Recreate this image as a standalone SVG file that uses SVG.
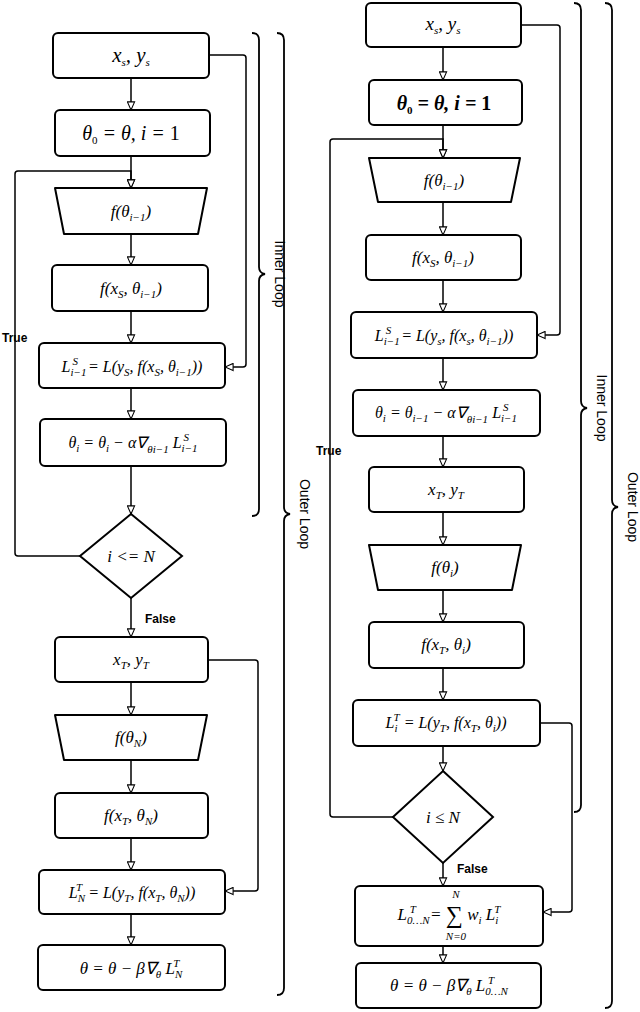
<svg xmlns="http://www.w3.org/2000/svg" width="640" height="1012" viewBox="0 0 640 1012">
<defs>
<marker id="a" viewBox="0 0 10 10" refX="10" refY="5" markerWidth="9" markerHeight="9" markerUnits="userSpaceOnUse" orient="auto"><path d="M1,1 L10,5 L1,9 Z" fill="#fff" stroke="#000" stroke-width="1.2"/></marker>
</defs>
<style>
.b{fill:#fff;stroke:#000;stroke-width:2}
.c{fill:none;stroke:#000;stroke-width:1.5;marker-end:url(#a)}
.l{fill:none;stroke:#000;stroke-width:1.5}
.br{fill:none;stroke:#000;stroke-width:1.8}
.m{font-family:"Liberation Serif",serif;font-style:italic;font-size:17px;text-anchor:middle}
.s{font-size:11px}
.lab{font-family:"Liberation Sans",Arial,sans-serif;font-size:12px;font-weight:bold}
.rot{font-family:"Liberation Sans",Arial,sans-serif;font-size:14px;text-anchor:middle}
</style>
<rect width="640" height="1012" fill="#fff"/>
<g id="connectors">
<path class="c" d="M131,78 V110"/>
<path class="c" d="M131,156 V188"/>
<path class="c" d="M131,234 V265"/>
<path class="c" d="M131,311 V343"/>
<path class="c" d="M131,388 V419"/>
<path class="c" d="M131,466 V514"/>
<path class="c" d="M80,556 H18 Q15,556 15,553 V174 Q15,171 18,171 H131 V188"/>
<path class="c" d="M131,598 V637"/>
<path class="c" d="M131,682 V715"/>
<path class="c" d="M131,760 V793"/>
<path class="c" d="M131,838 V870"/>
<path class="c" d="M131,914 V945"/>
<path class="c" d="M210,55 H243 Q246,55 246,58 V364 Q246,367 243,367 H225"/>
<path class="c" d="M208,660 H255 Q258,660 258,663 V888 Q258,891 255,891 H225"/>
<path class="c" d="M443,47 V80"/>
<path class="c" d="M443,125 V158"/>
<path class="c" d="M443,202 V235"/>
<path class="c" d="M443,280 V312"/>
<path class="c" d="M443,358 V390"/>
<path class="c" d="M443,436 V467"/>
<path class="c" d="M443,512 V545"/>
<path class="c" d="M443,590 V622"/>
<path class="c" d="M443,668 V700"/>
<path class="c" d="M443,746 V771"/>
<path class="c" d="M393,817 H333 Q330,817 330,814 V142 Q330,139 333,139 H443 V158"/>
<path class="c" d="M443,863 V886"/>
<path class="c" d="M443,946 V963"/>
<path class="c" d="M521,25 H557 Q560,25 560,28 V332 Q560,335 557,335 H537"/>
<path class="c" d="M540,723 H569 Q572,723 572,726 V909 Q572,912 569,912 H543"/>
<text class="lab" x="2" y="342">True</text>
<text class="lab" x="145" y="623">False</text>
<text class="lab" x="316" y="455">True</text>
<text class="lab" x="457" y="873">False</text>
</g>
<g id="braces">
<path class="br" d="M252,33 Q259,33 259,40 V267 Q259,273 265,274 Q259,275 259,281 V509 Q259,516 252,516"/>
<text class="rot" transform="translate(275,274) rotate(90)">Inner Loop</text>
<path class="br" d="M277,33 Q284,33 284,40 V507 Q284,513 290,514 Q284,515 284,521 V988 Q284,995 277,995"/>
<text class="rot" transform="translate(300,514) rotate(90)">Outer Loop</text>
<path class="br" d="M574,3 Q581,3 581,10 V401 Q581,407 587,408 Q581,409 581,415 V805 Q581,812 574,812"/>
<text class="rot" transform="translate(597,408) rotate(90)">Inner Loop</text>
<path class="br" d="M605,3 Q612,3 612,10 V500 Q612,506 618,507 Q612,508 612,514 V1001 Q612,1008 605,1008"/>
<text class="rot" transform="translate(628,507) rotate(90)">Outer Loop</text>
</g>
<g id="l1"><rect class="b" x="53" y="33" width="156" height="45" rx="5"/><text class="m" x="131" y="62" style="font-size:21px">x<tspan class="s" dy="4">s</tspan><tspan dy="-4">, y</tspan><tspan class="s" dy="4">s</tspan></text></g>
<g id="l2"><rect class="b" x="55" y="110" width="155" height="46" rx="5"/><text class="m" x="131" y="140" style="font-size:20px">θ<tspan class="s" dy="4" font-style="normal">0</tspan><tspan dy="-4"> = θ, i = </tspan><tspan font-style="normal">1</tspan></text></g>
<g id="l3"><path class="b" d="M55,188 H207 L198,234 H64 Z" stroke-linejoin="round"/><text class="m" x="131" y="217">f(θ<tspan class="s" dy="4">i−1</tspan><tspan dy="-4">)</tspan></text></g>
<g id="l4"><rect class="b" x="52" y="265" width="156" height="46" rx="5"/><text class="m" x="131" y="294">f(x<tspan class="s" dy="4">S</tspan><tspan dy="-4">, θ</tspan><tspan class="s" dy="4">i−1</tspan><tspan dy="-4">)</tspan></text></g>
<g id="l5"><rect class="b" x="39" y="343" width="186" height="45" rx="5"/><text class="m" x="132" y="372" style="font-size:16px">L<tspan class="s" dy="4">i−1</tspan><tspan class="s" dx="-14" dy="-11">S</tspan><tspan dx="6" dy="7"> = L(y</tspan><tspan class="s" dy="4">S</tspan><tspan dy="-4">, f(x</tspan><tspan class="s" dy="4">S</tspan><tspan dy="-4">, θ</tspan><tspan class="s" dy="4">i−1</tspan><tspan dy="-4">))</tspan></text></g>
<g id="l6"><rect class="b" x="40" y="419" width="186" height="47" rx="5"/><text class="m" x="133" y="448" style="font-size:16px">θ<tspan class="s" dy="4">i</tspan><tspan dy="-4"> = θ</tspan><tspan class="s" dy="4">i</tspan><tspan dy="-4"> − α∇</tspan><tspan class="s" dy="5">θi−1</tspan><tspan dy="-5"> L</tspan><tspan class="s" dy="4">i−1</tspan><tspan class="s" dx="-14" dy="-11">S</tspan></text></g>
<g id="l7"><path class="b" d="M131,514 L182,556 L131,598 L80,556 Z"/><text class="m" x="131" y="562">i &lt;= N</text></g>
<g id="l8"><rect class="b" x="55" y="637" width="153" height="45" rx="5"/><text class="m" x="131" y="665">x<tspan class="s" dy="4">T</tspan><tspan dy="-4">, y</tspan><tspan class="s" dy="4">T</tspan></text></g>
<g id="l9"><path class="b" d="M55,715 H207 L198,760 H64 Z" stroke-linejoin="round"/><text class="m" x="131" y="743">f(θ<tspan class="s" dy="4">N</tspan><tspan dy="-4">)</tspan></text></g>
<g id="l10"><rect class="b" x="55" y="793" width="153" height="45" rx="5"/><text class="m" x="131" y="821">f(x<tspan class="s" dy="4">T</tspan><tspan dy="-4">, θ</tspan><tspan class="s" dy="4">N</tspan><tspan dy="-4">)</tspan></text></g>
<g id="l11"><rect class="b" x="39" y="870" width="186" height="44" rx="5"/><text class="m" x="132" y="898" style="font-size:16px">L<tspan class="s" dy="4">N</tspan><tspan class="s" dx="-9" dy="-11">T</tspan><tspan dx="2" dy="7"> = L(y</tspan><tspan class="s" dy="4">T</tspan><tspan dy="-4">, f(x</tspan><tspan class="s" dy="4">T</tspan><tspan dy="-4">, θ</tspan><tspan class="s" dy="4">N</tspan><tspan dy="-4">))</tspan></text></g>
<g id="l12"><rect class="b" x="38" y="945" width="187" height="45" rx="5"/><text class="m" x="131" y="974">θ = θ − β∇<tspan class="s" dy="4">θ</tspan><tspan dy="-4"> L</tspan><tspan class="s" dy="4">N</tspan><tspan class="s" dx="-9" dy="-11">T</tspan></text></g>
<g id="r1"><rect class="b" x="366" y="3" width="155" height="44" rx="5"/><text class="m" x="443" y="30" style="font-size:19px">x<tspan class="s" dy="4">s</tspan><tspan dy="-4">, y</tspan><tspan class="s" dy="4">s</tspan></text></g>
<g id="r2"><rect class="b" x="369" y="80" width="153" height="45" rx="5"/><text class="m" x="444" y="110" style="font-size:20px;font-weight:bold">θ<tspan class="s" dy="4" font-style="normal">0</tspan><tspan dy="-4"> = θ, i = </tspan><tspan font-style="normal">1</tspan></text></g>
<g id="r3"><path class="b" d="M369,158 H520 L511,202 H378 Z" stroke-linejoin="round"/><text class="m" x="444" y="186">f(θ<tspan class="s" dy="4">i−1</tspan><tspan dy="-4">)</tspan></text></g>
<g id="r4"><rect class="b" x="366" y="235" width="155" height="45" rx="5"/><text class="m" x="443" y="263">f(x<tspan class="s" dy="4">S</tspan><tspan dy="-4">, θ</tspan><tspan class="s" dy="4">i−1</tspan><tspan dy="-4">)</tspan></text></g>
<g id="r5"><rect class="b" x="351" y="312" width="186" height="46" rx="5"/><text class="m" x="444" y="341" style="font-size:16px">L<tspan class="s" dy="4">i−1</tspan><tspan class="s" dx="-14" dy="-11">S</tspan><tspan dx="6" dy="7"> = L(y</tspan><tspan class="s" dy="4">s</tspan><tspan dy="-4">, f(x</tspan><tspan class="s" dy="4">s</tspan><tspan dy="-4">, θ</tspan><tspan class="s" dy="4">i−1</tspan><tspan dy="-4">))</tspan></text></g>
<g id="r6"><rect class="b" x="353" y="390" width="187" height="46" rx="5"/><text class="m" x="446" y="418" style="font-size:16px">θ<tspan class="s" dy="4">i</tspan><tspan dy="-4"> = θ</tspan><tspan class="s" dy="4">i−1</tspan><tspan dy="-4"> − α∇</tspan><tspan class="s" dy="5">θi−1</tspan><tspan dy="-5"> L</tspan><tspan class="s" dy="4">i−1</tspan><tspan class="s" dx="-14" dy="-11">S</tspan></text></g>
<g id="r7"><rect class="b" x="369" y="467" width="155" height="45" rx="5"/><text class="m" x="446" y="495">x<tspan class="s" dy="4">T</tspan><tspan dy="-4">, y</tspan><tspan class="s" dy="4">T</tspan></text></g>
<g id="r8"><path class="b" d="M369,545 H521 L512,590 H378 Z" stroke-linejoin="round"/><text class="m" x="445" y="573">f(θ<tspan class="s" dy="4">i</tspan><tspan dy="-4">)</tspan></text></g>
<g id="r9"><rect class="b" x="369" y="622" width="155" height="46" rx="5"/><text class="m" x="446" y="650">f(x<tspan class="s" dy="4">T</tspan><tspan dy="-4">, θ</tspan><tspan class="s" dy="4">i</tspan><tspan dy="-4">)</tspan></text></g>
<g id="r10"><rect class="b" x="353" y="700" width="187" height="46" rx="5"/><text class="m" x="446" y="728" style="font-size:16px">L<tspan class="s" dy="4">i</tspan><tspan class="s" dx="-4" dy="-11">T</tspan><tspan dy="7"> = L(y</tspan><tspan class="s" dy="4">T</tspan><tspan dy="-4">, f(x</tspan><tspan class="s" dy="4">T</tspan><tspan dy="-4">, θ</tspan><tspan class="s" dy="4">i</tspan><tspan dy="-4">))</tspan></text></g>
<g id="r11"><path class="b" d="M443,771 L493,817 L443,863 L393,817 Z"/><text class="m" x="443" y="823">i ≤ N</text></g>
<g id="r12"><rect class="b" x="355" y="886" width="188" height="60" rx="5"/><text class="m" x="449" y="920">L<tspan class="s" dy="4">0…N</tspan><tspan class="s" dx="-20" dy="-11">T</tspan><tspan dx="10" dy="7"> = </tspan><tspan font-style="normal" font-size="24" dy="3">∑</tspan><tspan dy="-3"> w</tspan><tspan class="s" dy="4">i</tspan><tspan dy="-4"> L</tspan><tspan class="s" dy="4">i</tspan><tspan class="s" dx="-4" dy="-11">T</tspan></text><text class="m" x="456" y="898" style="font-size:11px">N</text><text class="m" x="456" y="940" style="font-size:11px">N=0</text></g>
<g id="r13"><rect class="b" x="356" y="963" width="185" height="45" rx="5"/><text class="m" x="449" y="991">θ = θ − β∇<tspan class="s" dy="4">θ</tspan><tspan dy="-4"> L</tspan><tspan class="s" dy="4">0…N</tspan><tspan class="s" dx="-20" dy="-11">T</tspan></text></g>
</svg>
